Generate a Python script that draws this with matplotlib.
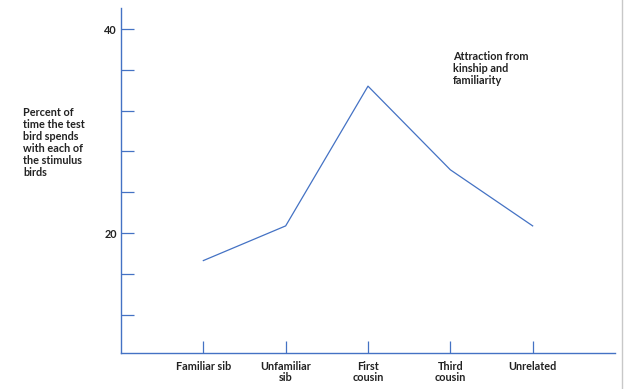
import matplotlib
matplotlib.use("Agg")
import matplotlib.pyplot as plt

categories = ["Familiar sib", "Unfamiliar\nsib", "First\ncousin", "Third\ncousin", "Unrelated"]
values = [17.3, 20.7, 34.4, 26.2, 20.7]
yticks = [12, 16, 20, 24, 28, 32, 36, 40]
ytick_labels = ["", "", "20", "", "", "", "", "40"]

blue = "#4472C4"
W, H = 624, 389
fig = plt.figure(figsize=(W / 100, H / 100), dpi=100)
fig.patch.set_facecolor("white")
ax = fig.add_axes([121 / W, 36 / H, (615 - 121) / W, (381 - 36) / H])

x = list(range(len(categories)))
ax.plot(x, values, color=blue, lw=0.9)

ax.set_xlim(-1, 5)
ax.set_ylim(8.24, 42.06)
ax.set_xticks(x)
ax.set_xticklabels(categories, fontsize=7.8, family="Lato", fontweight="bold",
                   color="#222222", linespacing=1.0, va="top")
ax.set_yticks(yticks)
ax.set_yticklabels(ytick_labels, fontsize=7.8, family="Lato", fontweight="bold", color="#222222")

for s in ["top", "right"]:
    ax.spines[s].set_visible(False)
for s in ["left", "bottom"]:
    ax.spines[s].set_color(blue)
    ax.spines[s].set_linewidth(1.0)

ax.tick_params(axis="y", direction="in", length=9, width=0.9, color=blue, pad=3)
ax.tick_params(axis="x", direction="in", length=9, width=0.9, color=blue, pad=6)

fig.text(23 / W, 1 - 107 / H,
         "Percent of\ntime the test\nbird spends\nwith each of\nthe stimulus\nbirds",
         fontsize=7.8, family="Lato", fontweight="bold", color="#222222",
         ha="left", va="top", linespacing=1.1)
fig.text(453 / W, 1 - 51 / H, "Attraction from\nkinship and\nfamiliarity",
         fontsize=7.8, family="Lato", fontweight="bold", color="#222222",
         ha="left", va="top", linespacing=1.1)

fig.add_artist(plt.Line2D([621.5 / W, 621.5 / W], [0, 1], color="#c8c8c8", lw=1.0))

fig.savefig("out.png", dpi=100, facecolor="white")
